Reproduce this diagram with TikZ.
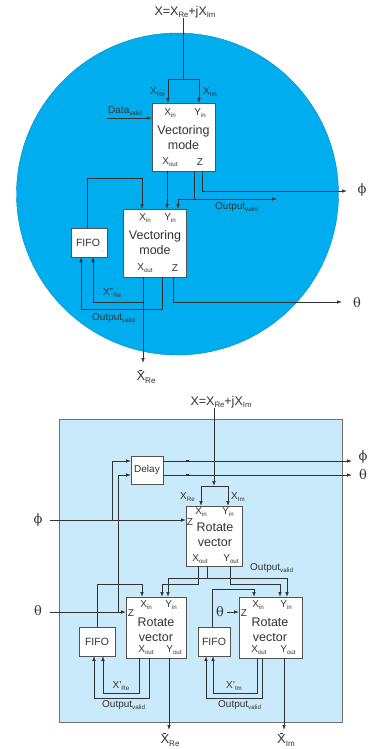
\documentclass[tikz,border=0pt]{standalone}
\usepackage{fontspec}
\setmainfont{Liberation Sans}
\newfontfamily\grk{DejaVu Serif}
\usepackage{graphicx}
\usetikzlibrary{arrows.meta}
\definecolor{ink}{HTML}{333333}
\definecolor{cyanfill}{HTML}{00AEEF}
\definecolor{paleblue}{HTML}{C9EAFA}
\newcommand\lo[1]{\raisebox{-0.45ex}{\scalebox{0.62}{#1}}}
\newcommand\xbar{\makebox[0pt][l]{\hspace{0.21em}\raisebox{0.78em}{\rule{0.25em}{0.7pt}}}X}
\begin{document}
\begin{tikzpicture}[x=1pt,y=-1pt,
  ln/.style={draw=ink,line width=0.85pt},
  arr/.style={ln,-{Latex[length=5pt,width=3.6pt]}},
  blk/.style={draw=ink!85,fill=white,line width=0.8pt,inner sep=0pt,outer sep=0pt},
  lbl/.style={text=ink,inner sep=0pt,font=\fontsize{10}{10}\selectfont},
  big/.style={text=ink,inner sep=0pt,align=center,font=\fontsize{12.5}{15}\selectfont},
  ttl/.style={text=ink,inner sep=0pt,font=\fontsize{12.5}{12.5}\selectfont},
  gk/.style={text=ink,inner sep=0pt,font=\grk\fontsize{13}{13}\selectfont},
  xb/.style={text=ink,inner sep=0pt,font=\fontsize{13}{13}\selectfont}]
\useasboundingbox (0,0) rectangle (367,749);
\fill[white] (0,0) rectangle (367,749);

% ================= TOP: vectoring =================
\fill[cyanfill] (177.5,194) circle (161pt);
\draw[cyanfill!80!black,line width=0.4pt] (177.5,194) circle (161pt);

\node[ttl] (t1) at (185,12) {X=X\lo{Re}+jX\lo{Im}};
\coordinate (jA) at (183,79);

\node[blk,minimum width=63pt,minimum height=68pt] (b1) at (183.5,137) {};
\node[blk,minimum width=63pt,minimum height=68pt] (b2) at (154.5,243) {};
\node[blk,minimum width=36pt,minimum height=29pt] (f1) at (89,242.5) {};

\node[lbl] (b1xi) at (170,113) {X\lo{in}};
\node[lbl] (b1yi) at (200,113) {Y\lo{in}};
\node[big] (b1t) at (183.5,138) {Vectoring\\mode};
\node[lbl] (b1xo) at (170,162) {X\lo{out}};
\node[lbl] (b1z) at (200,162) {Z};

\node[lbl] (b2xi) at (145,218) {X\lo{in}};
\node[lbl] (b2yi) at (170,218) {Y\lo{in}};
\node[big] (b2t) at (155,242.5) {Vectoring\\mode};
\node[lbl] (b2xo) at (145,268) {X\lo{out}};
\node[lbl] (b2z) at (175,268) {Z};

\node[text=ink,inner sep=0pt,font=\fontsize{10.5}{10.5}\selectfont] (f1t) at (88,243) {FIFO};
\node[text=ink,inner sep=0pt,font=\fontsize{5}{5}\selectfont] (f1c) at (103,252) {,};

\draw[ln] (t1.south -| jA) -- (jA);
\draw[arr] (jA) -| (168,103);
\draw[arr] (jA) -| (199,103);
\node[lbl,anchor=east] (lxre1) at (165,92) {X\lo{Re}};
\node[lbl,anchor=west] (lxim1) at (203,92) {X\lo{Im}};

\coordinate (dv) at (107,118);
\draw[arr] (dv) -- (b1.west |- dv);
\node[lbl,anchor=west] (ldv) at (108,111) {Data\lo{valid}};

\draw[arr] (167,171) -- (167,209);
\draw[arr] (194,171) |- (277,199);
\draw[arr] (194,199) -| (178,209);
\node[lbl,anchor=west] (lov1) at (215,207) {Output\lo{valid}};
\draw[arr] (202,171) |- (347,191);
\node[gk] (phi1) at (362,190) {ϕ};

\draw[arr] (87,228) |- (142,178) -- (142,209);
\draw[arr] (143,277) -- (143,363);
\draw[arr] (143,302) -| (93,257);
\node[lbl] (lxp1) at (112,293) {X''\lo{Re}};
\draw[arr] (162,277) |- (81,309) -- (81,257);
\node[lbl,anchor=west] (lov2) at (92,318) {Output\lo{valid}};
\draw[arr] (173,277) |- (342,302);
\node[gk] (th1) at (357,303) {θ};
\node[xb] (xre1) at (146,377) {\xbar\lo{Re}};

% ================= BOTTOM: rotation =================
\filldraw[fill=paleblue,draw=ink!70,line width=0.8pt] (59,419) rectangle (342,722);
\node[ttl] (t2) at (221,402) {X=X\lo{Re}+jX\lo{Im}};

\node[blk,minimum width=32pt,minimum height=28pt] (dl) at (147,470) {};
\node[text=ink,inner sep=0pt,font=\fontsize{10}{10}\selectfont] (dlt) at (147,470) {Delay};

\node[blk,minimum width=56pt,minimum height=60pt] (ra) at (214,536) {};
\node[blk,minimum width=60pt,minimum height=61pt] (rl) at (156,627.5) {};
\node[blk,minimum width=63pt,minimum height=61pt] (rr) at (270.5,627.5) {};
\node[blk,minimum width=36pt,minimum height=29pt] (fl) at (97,641.5) {};
\node[blk,minimum width=32pt,minimum height=29pt] (fr) at (214,641.5) {};

\node[lbl] (raxi) at (201,512) {X\lo{in}};
\node[lbl] (rayi) at (228,512) {Y\lo{in}};
\node[lbl] (raz) at (190,522) {Z};
\node[big] (rat) at (215,535) {Rotate\\vector};
\node[lbl] (raxo) at (200,559) {X\lo{out}};
\node[lbl] (rayo) at (231,559) {Y\lo{out}};

\node[lbl] (rlxi) at (146,605) {X\lo{in}};
\node[lbl] (rlyi) at (171,605) {Y\lo{in}};
\node[lbl] (rlz) at (131,613) {Z};
\node[big] (rlt) at (156,629.5) {Rotate\\vector};
\node[lbl] (rlxo) at (146,650) {X\lo{out}};
\node[lbl] (rlyo) at (174,650) {Y\lo{out}};

\node[lbl] (rrxi) at (258,605) {X\lo{in}};
\node[lbl] (rryi) at (286,605) {Y\lo{in}};
\node[lbl] (rrz) at (244,613) {Z};
\node[big] (rrt) at (270,629.5) {Rotate\\vector};
\node[lbl] (rrxo) at (259,650) {X\lo{out}};
\node[lbl] (rryo) at (288,650) {Y\lo{out}};

\node[text=ink,inner sep=0pt,font=\fontsize{10.5}{10.5}\selectfont] (flt) at (97,642) {FIFO};
\node[text=ink,inner sep=0pt,font=\fontsize{10.5}{10.5}\selectfont] (frt) at (214,642) {FIFO};

% input X
\coordinate (jB) at (214,486);
\draw[arr] (t2.south -| jB) -- (jB);
\draw[arr] (jB) -| (201,506);
\draw[arr] (jB) -| (228,506);
\node[lbl,anchor=east] (lxre2) at (195,497) {X\lo{Re}};
\node[lbl,anchor=west] (lxim2) at (231,497) {X\lo{Im}};

% phi / theta inputs
\node[gk] (phi2) at (38,520) {ϕ};
\draw[arr] (50,520) -- (ra.west |- 0,520);
\draw[arr] (112,520) |- (dl.west |- 0,461);
\node[gk] (th2) at (38,611) {θ};
\draw[arr] (50,612) -- (rl.west |- 0,612);
\draw[arr] (118,612) |- (dl.west |- 0,475);

% delay outputs
\draw[arr] (dl.east |- 0,461) -- (352,461);
\draw[arr] (dl.east |- 0,475) -- (352,475);
\draw[ink,line width=1.8pt] (185.5,461) -- (188.5,461);
\draw[ink,line width=1.8pt] (185.5,475) -- (188.5,475);
\node[gk] (phi3) at (363,457) {ϕ};
\node[gk] (th3) at (363,475) {θ};

% rotate A outputs
\draw[arr] (198,566) |- (162,584) -- (162,597);
\draw[arr] (207,566) |- (168,578) -- (168,597);
\draw[arr] (207,578) -| (287,597);
\draw[arr] (230,566) |- (280,584) -- (280,597);
\node[lbl,anchor=west] (lov3) at (250,568) {Output\lo{valid}};

% left FIFO loop
\draw[arr] (97,627) |- (142,584) -- (142,597);
\draw[arr] (139,658) |- (103,693) -- (103,656);
\draw[arr] (149,658) |- (94,698) -- (94,656);
\draw[arr] (169,658) -- (169,730);
\node[lbl] (lxp2) at (121,686) {X'\lo{Re}};
\node[lbl,anchor=west] (lov4) at (102,705) {Output\lo{valid}};
\node[xb] (xre2) at (170,740) {\xbar\lo{Re}};

% right FIFO loop
\node[gk] (th4) at (220,612) {θ};
\draw[arr] (227,612) -- (rr.west |- 0,612);
\draw[arr] (212,627) |- (254,589) -- (254,597);
\draw[arr] (257,658) |- (213,693) -- (213,656);
\draw[arr] (262,658) |- (206,698) -- (206,656);
\draw[arr] (284,658) -- (284,730);
\node[lbl] (lxp3) at (234,686) {X'\lo{Im}};
\node[lbl,anchor=west] (lov5) at (218,705) {Output\lo{valid}};
\node[xb] (xim2) at (286,740) {\xbar\lo{Im}};
\end{tikzpicture}
\end{document}
